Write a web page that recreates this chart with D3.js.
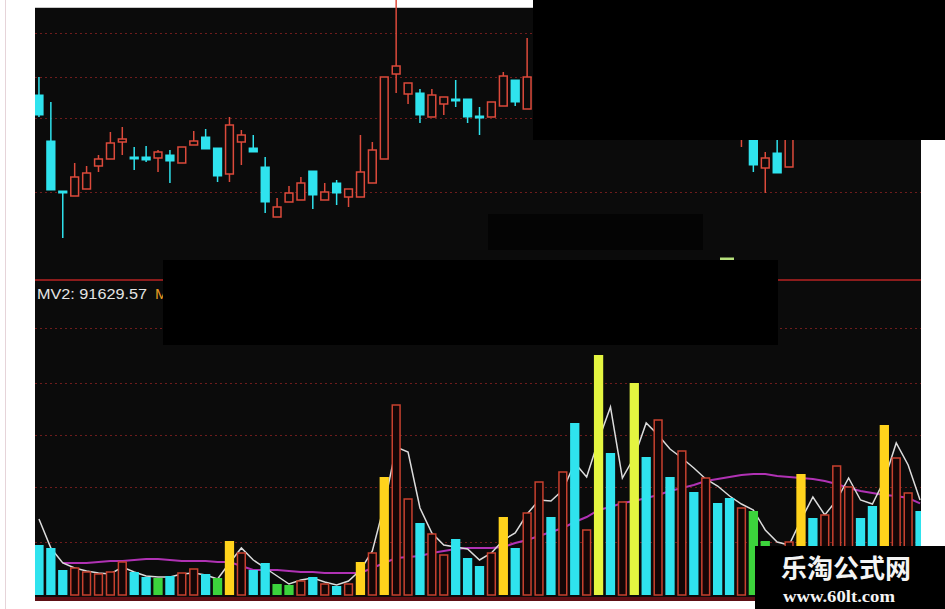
<!DOCTYPE html>
<html><head><meta charset="utf-8">
<script src="https://cdn.jsdelivr.net/npm/d3@7"></script>
<style>html,body{margin:0;padding:0;background:#fff;} svg{display:block}</style>
</head><body>
<svg id="chart" width="945" height="609"></svg>
<script>
// ---------- DATA ----------
const days = d3.range(1, 76); // 75 trading days
const N = null;
// days 43-59 and 65-75 are hidden under the redaction box
const open  = [12.70,11.78,10.78,10.68,10.82,11.28,11.42,11.76,11.46,11.46,11.44,11.50,11.34,11.70,11.86,11.64,11.12,11.76,11.64,11.26,10.26,10.56,10.60,11.18,10.60,10.94,10.66,10.66,10.94,11.42,13.12,12.72,12.74,12.26,12.52,12.62,12.62,12.28,12.26,12.48,13.00,12.42,N,N,N,N,N,N,N,N,N,N,N,N,N,N,N,N,N,12.40,12.20,11.24,11.54,11.26,N,N,N,N,N,N,N,N,N,N,N];
const high  = [13.06,12.56,10.78,11.34,11.28,11.50,11.96,12.06,11.66,11.68,11.60,11.60,11.66,11.98,12.02,11.64,12.26,12.00,11.90,11.46,10.64,10.88,11.06,11.18,10.94,11.00,10.82,11.90,11.76,13.06,14.60,12.94,12.82,12.82,12.66,13.00,12.62,12.46,12.56,13.16,13.00,13.84,N,N,N,N,N,N,N,N,N,N,N,N,N,N,N,N,N,12.80,12.40,11.56,12.00,12.20,N,N,N,N,N,N,N,N,N,N,N];
const low   = [12.26,10.80,9.84,10.68,10.82,11.16,11.42,11.50,11.20,11.36,11.16,10.94,11.34,11.70,11.62,10.96,10.96,11.30,11.56,10.34,10.26,10.56,10.60,10.42,10.60,10.50,10.46,10.66,10.94,11.42,12.74,12.52,12.14,12.26,12.30,12.46,12.14,11.90,12.26,12.48,12.48,12.42,N,N,N,N,N,N,N,N,N,N,N,N,N,N,N,N,N,11.66,11.16,10.74,11.14,11.26,N,N,N,N,N,N,N,N,N,N,N];
const close = [12.30,10.80,10.74,11.06,11.14,11.42,11.74,11.82,11.42,11.40,11.56,11.38,11.66,11.78,11.62,11.08,12.10,11.90,11.56,10.56,10.46,10.74,10.94,10.70,10.76,10.74,10.82,11.16,11.60,13.06,13.28,12.94,12.30,12.70,12.66,12.58,12.26,12.24,12.56,13.08,12.56,13.06,N,N,N,N,N,N,N,N,N,N,N,N,N,N,N,N,N,12.70,11.30,11.44,11.14,12.10,N,N,N,N,N,N,N,N,N,N,N];

// volume, thousands of lots
const volume = [50,47,25,27,23,21,23,33,23,18,17,19,22,26,21,17,54,42,25,32,11,10,14,18,11,9,11,33,42,118,190,96,72,61,40,56,37,29,42,78,47,82,113,78,123,172,65,240,142,93,212,138,175,118,144,103,117,92,97,87,84,54,35,53,121,77,80,129,108,77,89,170,137,102,84];
// bar type: c = down (cyan), r = up (red hollow), y = signal (gold), l = signal (lime), g = shrink (green)
const volType = ["c","c","c","r","r","r","r","r","c","c","g","c","r","r","c","g","y","r","c","c","g","g","r","c","r","c","r","y","r","y","r","r","c","r","r","c","c","c","r","y","c","r","r","c","r","c","r","l","c","r","l","c","r","c","r","c","r","c","c","r","g","g","c","r","y","c","r","r","r","c","c","y","r","r","c"];
// short volume average (white)
const mv1 = [76,47,32,27,24,22,21,28,23,19,18,18,21,22,20,16,32,47,35,27,19,11,15,17,13,10,14,25,44,90,148,143,87,62,50,48,46,35,42,55,62,81,95,94,105,132,118,155,188,117,138,172,160,146,137,127,116,109,99,91,85,65,53,50,75,98,80,95,117,95,91,115,152,130,95];
// long volume average (magenta) - MV2
const mv2 = [N,N,32,32,32,33,34,34,35,36,36,35,34,34,34,33,33,29,25,25,25,24,23,23,22,22,22,22,27,32,37,38,39,42,44,46,47,47,47,48,52,55,59,63,67,73,78,85,88,92,94,97,100,104,107,110,114,116,118,120,121,121,119,118,117,116,114,111,107,104,102,100,99,97,91.63];

const priceGrid = [13.94, 13.06, 12.24, 10.76];
const volGrid = [267, 212, 160, 108, 53];
const mvLabel = "MV2: 91629.57";

// ---------- DRAW ----------
const svg = d3.select("#chart");
const BG = "#0b0b0b", RED = "#dc4a3b", CYAN = "#2fe3ee";
const volColors = {c: CYAN, r: "#c8412f", y: "#ffd31c", l: "#e4f540", g: "#3cd43c"};

svg.append("rect").attr("width",945).attr("height",609).attr("fill","#fff");
svg.append("line").attr("x1",5.5).attr("x2",5.5).attr("y1",0).attr("y2",609).attr("stroke","#e6d4d9");
svg.append("rect").attr("x",35).attr("y",8).attr("width",886).attr("height",590).attr("fill",BG);
svg.append("line").attr("x1",35).attr("x2",921).attr("y1",7.5).attr("y2",7.5).attr("stroke","#c8c8c8");

const x = d3.scaleBand().domain(days).range([33, 926]).padding(0);
const cx = d => x(d) + x.bandwidth()/2;
const bw = x.bandwidth()*0.78;
const yP = d3.scaleLinear().domain([9.0, 14.44]).range([280, 8]);
const yV = d3.scaleLinear().domain([0, 250]).range([595, 345]);

const defs = svg.append("defs");
defs.append("clipPath").attr("id","cp").append("rect").attr("x",35).attr("y",0).attr("width",886).attr("height",280);
defs.append("clipPath").attr("id","cv").append("rect").attr("x",35).attr("y",300).attr("width",886).attr("height",297);

// grids
const gridStyle = s => s.attr("stroke","#6e1c1c").attr("stroke-dasharray","2,3").attr("stroke-width",1);
svg.append("g").selectAll("line").data(priceGrid).join("line")
  .attr("x1",35).attr("x2",921).attr("y1",d=>Math.round(yP(d))+0.5).attr("y2",d=>Math.round(yP(d))+0.5).call(gridStyle);
svg.append("g").selectAll("line").data(volGrid).join("line")
  .attr("x1",35).attr("x2",921).attr("y1",d=>Math.round(yV(d))+0.5).attr("y2",d=>Math.round(yV(d))+0.5).call(gridStyle);
svg.append("line").attr("x1",35).attr("x2",921).attr("y1",280).attr("y2",280).attr("stroke","#8c1c1c").attr("stroke-width",2);
svg.append("rect").attr("x",35).attr("y",597).attr("width",886).attr("height",4).attr("fill","#5c0f14");

// candles
const cg = svg.append("g").attr("clip-path","url(#cp)");
days.forEach((d,i) => {
  if (open[i] == null) return;
  const up = close[i] >= open[i];
  const col = up ? RED : CYAN;
  cg.append("line").attr("x1",cx(d)).attr("x2",cx(d)).attr("y1",yP(high[i])).attr("y2",yP(low[i]))
    .attr("stroke",col).attr("stroke-width",1.5);
  const top = yP(Math.max(open[i],close[i])), bot = yP(Math.min(open[i],close[i]));
  const h = Math.max(bot-top, 1.6);
  if (up) {
    cg.append("rect").attr("x",cx(d)-bw/2+0.75).attr("y",top).attr("width",bw-1.5).attr("height",h)
      .attr("fill",BG).attr("stroke",col).attr("stroke-width",1.5);
  } else {
    cg.append("rect").attr("x",cx(d)-bw/2).attr("y",top-0.5).attr("width",bw).attr("height",h+1).attr("fill",col);
  }
});

// volume panel
const vg = svg.append("g").attr("clip-path","url(#cv)");
const line = () => d3.line().defined(v=>v!=null).x((v,i)=>cx(days[i])).y(v=>yV(v));
vg.append("path").attr("d", line()(mv2)).attr("fill","none").attr("stroke","#b032b4").attr("stroke-width",2);
vg.append("path").attr("d", line()(mv1)).attr("fill","none").attr("stroke","#dcdcdc").attr("stroke-width",1.5);
days.forEach((d,i) => {
  const t = volType[i];
  const top = yV(volume[i]), base = yV(0);
  if (t === "r") {
    vg.append("rect").attr("x",cx(d)-bw/2+0.75).attr("y",top).attr("width",bw-1.5).attr("height",base-top)
      .attr("fill","#140606").attr("stroke",volColors.r).attr("stroke-width",1.5);
  } else {
    vg.append("rect").attr("x",cx(d)-bw/2).attr("y",top).attr("width",bw).attr("height",base-top).attr("fill",volColors[t]);
  }
});

// label
svg.append("text").attr("x",37).attr("y",299).attr("font-family","Liberation Sans, Arial, sans-serif")
  .attr("font-size",15.5).attr("fill","#e4e4e4").attr("textLength",110).attr("lengthAdjust","spacingAndGlyphs").text(mvLabel);
svg.append("text").attr("x",155).attr("y",299).attr("font-family","Liberation Sans, Arial, sans-serif")
  .attr("font-size",15.5).attr("fill","#e69a22").text("M");

// redaction boxes
svg.append("rect").attr("x",533).attr("y",0).attr("width",412).attr("height",140).attr("fill","#000");
svg.append("rect").attr("x",488).attr("y",214).attr("width",215).attr("height",36).attr("fill","#040404");
svg.append("rect").attr("x",163).attr("y",260).attr("width",615).attr("height",85).attr("fill","#000");
svg.append("rect").attr("x",720).attr("y",257.5).attr("width",14).attr("height",2.5).attr("fill","#b6e07c");

// watermark
svg.append("rect").attr("x",755).attr("y",546).attr("width",190).attr("height",63).attr("fill","#000");
svg.append("text").attr("x",781).attr("y",578).attr("font-family","Noto Sans CJK SC, sans-serif")
  .attr("font-weight",700).attr("font-size",26).attr("fill","#f4f4f4").text("乐淘公式网");
svg.append("text").attr("x",783).attr("y",602).attr("font-family","Liberation Serif, serif")
  .attr("font-weight",700).attr("font-size",17).attr("fill","#f4f4f4")
  .attr("textLength",112).attr("lengthAdjust","spacingAndGlyphs").text("www.60lt.com");
</script>
</body></html>
